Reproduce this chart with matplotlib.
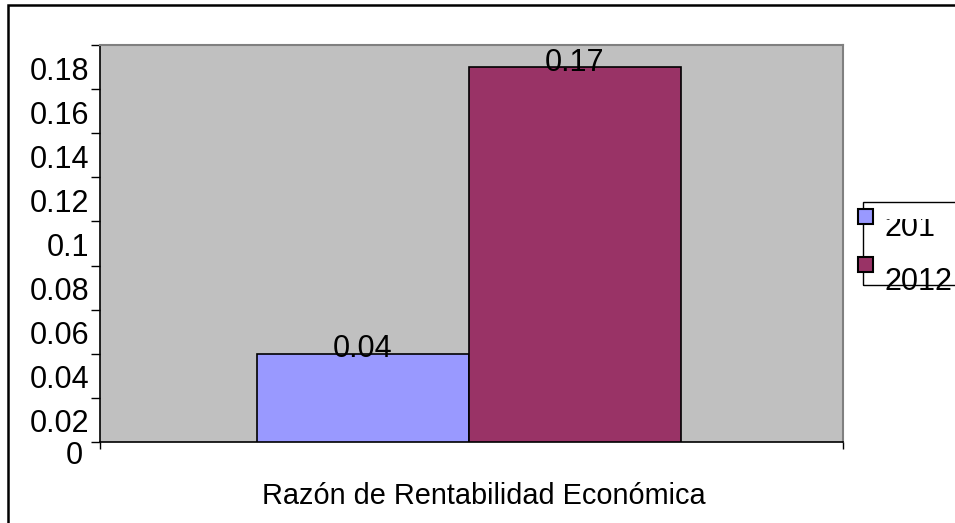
import matplotlib
matplotlib.use("Agg")
import matplotlib.pyplot as plt
import matplotlib.transforms as mtransforms
from matplotlib.patches import Rectangle

# data
category = "Razón de Rentabilidad Económica"
series_names = ["201", "2012"]
values = [0.04, 0.17]
bar_colors = ["#9999FF", "#993366"]
y_ticks = [0, 0.02, 0.04, 0.06, 0.08, 0.1, 0.12, 0.14, 0.16, 0.18]
y_tick_labels = ["0", "0.02", "0.04", "0.06", "0.08", "0.1", "0.12", "0.14", "0.16", "0.18"]

plt.rcParams["font.family"] = ["Liberation Sans", "DejaVu Sans"]
FS = 22

W, H = 955, 523
fig = plt.figure(figsize=(W / 100, H / 100), dpi=100)
fig.patch.set_facecolor("white")

def fx(px):
    return px / W

def fy(py):
    return 1 - py / H

ax = fig.add_axes([fx(100), fy(442), fx(843) - fx(100), fy(45) - fy(442)])
ax.set_facecolor("#C0C0C0")

# bars: one category, two series side by side
width = 0.2853
center = -0.0035
offsets = [-width / 2, width / 2]
for val, col, off in zip(values, bar_colors, offsets):
    ax.bar(center + off, val, width=width, color=col, edgecolor="black", linewidth=1.2, zorder=3)
    ax.annotate(f"{val:.2f}", (center + off, val), xytext=(0, 3.2), textcoords="offset points",
                ha="center", va="center", fontsize=FS, zorder=4)

ax.set_xlim(-0.5, 0.5)
ax.set_ylim(0, 0.18)

ax.set_yticks(y_ticks)
ax.set_yticklabels(y_tick_labels, fontsize=FS)
ax.tick_params(axis="y", direction="out", length=6.5, width=1, pad=1)
# labels sit half an interval below their tick in the reference
for lab, v in zip(ax.get_yticklabels(), y_ticks):
    if v == 0:
        dx, dy = -5.0, -7.2
    else:
        dx, dy = 0, -16.6
    lab.set_transform(lab.get_transform() + mtransforms.ScaledTranslation(dx / 72, dy / 72, fig.dpi_scale_trans))

ax.set_xticks([-0.5, 0.5])
ax.set_xticklabels([])
ax.tick_params(axis="x", direction="out", length=5, width=1)

for side in ["left", "bottom"]:
    ax.spines[side].set_color("black")
    ax.spines[side].set_linewidth(1.2)
for side in ["top", "right"]:
    ax.spines[side].set_color("#808080")
    ax.spines[side].set_linewidth(1.5)

fig.text(fx(484), fy(496), category, ha="center", va="center", fontsize=20.8)

# outer chart frame
fig.patches.append(Rectangle((fx(8), fy(530)), fx(960) - fx(8), fy(5) - fy(530),
                             transform=fig.transFigure, fill=False, edgecolor="black", linewidth=1.8))

# legend box (clipped at right edge in the reference)
fig.patches.append(Rectangle((fx(863), fy(285)), fx(970) - fx(863), fy(202) - fy(285),
                             transform=fig.transFigure, fill=False, edgecolor="black", linewidth=1))
marker_y = [216, 264]
text_y = [236, 290]
for name, col, my, ty in zip(series_names, bar_colors, marker_y, text_y):
    fig.patches.append(Rectangle((fx(858), fy(my + 7.5)), fx(15), 15 / H,
                                 transform=fig.transFigure, facecolor=col, edgecolor="black", linewidth=1.5))
    t = fig.text(fx(884), fy(ty), name, ha="left", va="baseline", fontsize=FS)
    if name == series_names[0]:
        clip = Rectangle((fx(863), fy(285)), fx(100), fy(219) - fy(285), transform=fig.transFigure)
        t.set_clip_path(clip)

fig.savefig("out.png", dpi=100, facecolor="white")
